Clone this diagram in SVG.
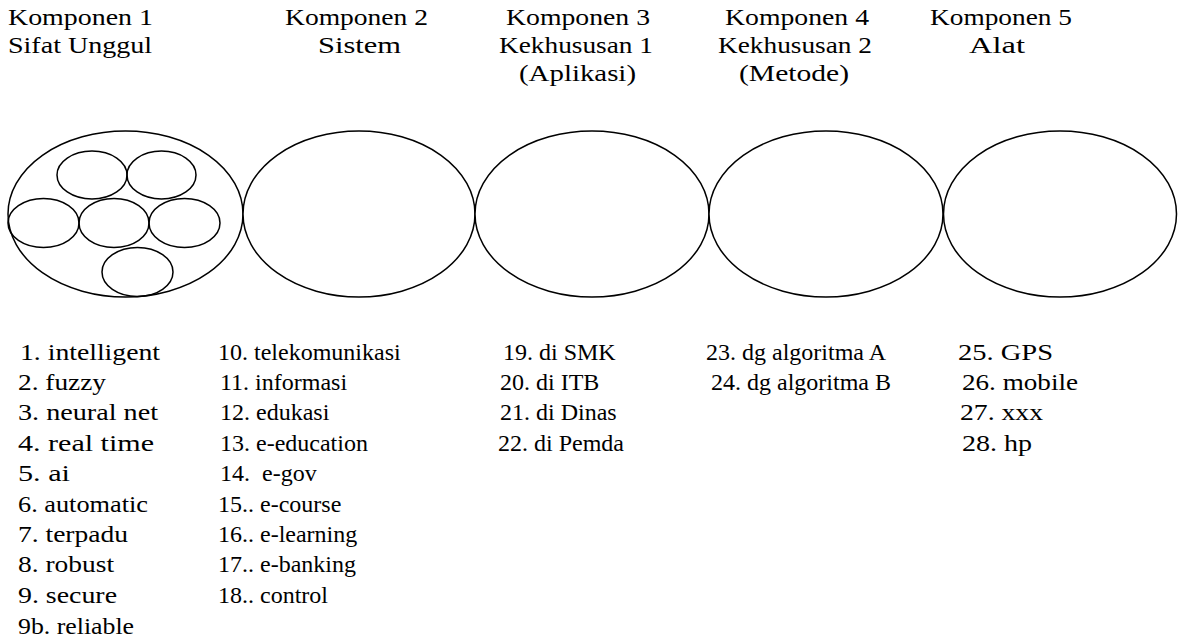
<svg xmlns="http://www.w3.org/2000/svg" width="1178" height="644" viewBox="0 0 1178 644">
<style>
text { font-family: "Liberation Serif", "Times New Roman", "DejaVu Serif", serif; font-size: 24px; fill: #000; }
.big { fill: #fff; stroke: #000; stroke-width: 1.5; }
.small { fill: none; stroke: #000; stroke-width: 1.5; }
</style>
<rect width="1178" height="644" fill="#fff"/>
<g id="comp1">
  <text x="8" y="25" textLength="145" lengthAdjust="spacingAndGlyphs">Komponen 1</text>
  <text x="8" y="53" textLength="144" lengthAdjust="spacingAndGlyphs">Sifat Unggul</text>
  <ellipse class="big" cx="125.5" cy="214" rx="117.5" ry="83"/>
  <ellipse class="small" cx="92" cy="175" rx="35" ry="24"/>
  <ellipse class="small" cx="161.5" cy="175" rx="34.5" ry="24"/>
  <ellipse class="small" cx="43.5" cy="223" rx="35.5" ry="24.5"/>
  <ellipse class="small" cx="114" cy="223" rx="35" ry="24.5"/>
  <ellipse class="small" cx="184.5" cy="223" rx="35.5" ry="24.5"/>
  <ellipse class="small" cx="137.5" cy="272" rx="35.5" ry="24.5"/>
  <text x="20" y="360" textLength="140" lengthAdjust="spacingAndGlyphs">1. intelligent</text>
  <text x="18" y="390" textLength="88" lengthAdjust="spacingAndGlyphs">2. fuzzy</text>
  <text x="18" y="420" textLength="140" lengthAdjust="spacingAndGlyphs">3. neural net</text>
  <text x="18" y="451" textLength="136" lengthAdjust="spacingAndGlyphs">4. real time</text>
  <text x="18" y="481" textLength="52" lengthAdjust="spacingAndGlyphs">5. ai</text>
  <text x="18" y="512" textLength="130" lengthAdjust="spacingAndGlyphs">6. automatic</text>
  <text x="18" y="542" textLength="110" lengthAdjust="spacingAndGlyphs">7. terpadu</text>
  <text x="18" y="572" textLength="96" lengthAdjust="spacingAndGlyphs">8. robust</text>
  <text x="18" y="603" textLength="99" lengthAdjust="spacingAndGlyphs">9. secure</text>
  <text x="18" y="634" textLength="116" lengthAdjust="spacingAndGlyphs">9b. reliable</text>
</g>
<g id="comp2">
  <text x="285" y="25" textLength="143" lengthAdjust="spacingAndGlyphs">Komponen 2</text>
  <text x="318" y="53" textLength="83" lengthAdjust="spacingAndGlyphs">Sistem</text>
  <ellipse class="big" cx="359" cy="214" rx="116" ry="83"/>
  <text x="218" y="360">10. telekomunikasi</text>
  <text x="220" y="390">11. informasi</text>
  <text x="220" y="420">12. edukasi</text>
  <text x="220" y="451">13. e-education</text>
  <text x="220" y="481" xml:space="preserve">14.  e-gov</text>
  <text x="218" y="512">15.. e-course</text>
  <text x="218" y="542">16.. e-learning</text>
  <text x="218" y="572">17.. e-banking</text>
  <text x="218" y="603">18.. control</text>
</g>
<g id="comp3">
  <text x="506" y="25" textLength="144" lengthAdjust="spacingAndGlyphs">Komponen 3</text>
  <text x="499" y="53" textLength="154" lengthAdjust="spacingAndGlyphs">Kekhususan 1</text>
  <text x="519" y="81" textLength="117" lengthAdjust="spacingAndGlyphs">(Aplikasi)</text>
  <ellipse class="big" cx="592" cy="214" rx="117" ry="83"/>
  <text x="503" y="360">19. di SMK</text>
  <text x="500" y="390">20. di ITB</text>
  <text x="500" y="420">21. di Dinas</text>
  <text x="498" y="451">22. di Pemda</text>
</g>
<g id="comp4">
  <text x="725" y="25" textLength="144" lengthAdjust="spacingAndGlyphs">Komponen 4</text>
  <text x="718" y="53" textLength="154" lengthAdjust="spacingAndGlyphs">Kekhususan 2</text>
  <text x="739" y="81" textLength="110" lengthAdjust="spacingAndGlyphs">(Metode)</text>
  <ellipse class="big" cx="826" cy="214" rx="117" ry="83"/>
  <text x="706" y="360">23. dg algoritma A</text>
  <text x="711" y="390">24. dg algoritma B</text>
</g>
<g id="comp5">
  <text x="930" y="25" textLength="142" lengthAdjust="spacingAndGlyphs">Komponen 5</text>
  <text x="969" y="53" textLength="56" lengthAdjust="spacingAndGlyphs">Alat</text>
  <ellipse class="big" cx="1060" cy="214" rx="116.5" ry="83"/>
  <text x="958" y="360" textLength="95" lengthAdjust="spacingAndGlyphs">25. GPS</text>
  <text x="962" y="390" textLength="116" lengthAdjust="spacingAndGlyphs">26. mobile</text>
  <text x="960" y="420" textLength="83" lengthAdjust="spacingAndGlyphs">27. xxx</text>
  <text x="962" y="451" textLength="70" lengthAdjust="spacingAndGlyphs">28. hp</text>
</g>
<g id="connectors"></g>
</svg>
